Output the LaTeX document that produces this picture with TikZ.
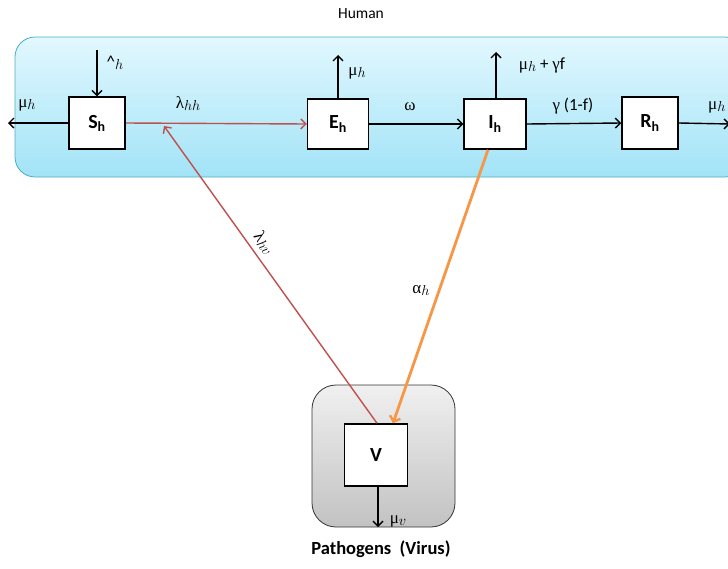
\documentclass[tikz,border=0pt]{standalone}
\usepackage{fontspec}
\setmainfont{Carlito}
\newfontfamily\gr{Liberation Serif}
\usetikzlibrary{arrows.meta}
\definecolor{redline}{HTML}{C0504D}
\definecolor{orangeline}{HTML}{F79646}
\definecolor{panelborder}{HTML}{4BACC6}
\definecolor{bluetop}{HTML}{E2F8FE}
\definecolor{bluebot}{HTML}{A2E3F7}
\definecolor{graytop}{HTML}{F0F0F0}
\definecolor{graybot}{HTML}{C2C2C2}
\newcommand\lsub[1]{\raisebox{-2pt}{\fontsize{15}{15}\selectfont$#1$}}
\tikzset{
  box/.style={draw=black, line width=1.5pt, fill=white, inner sep=0pt, font=\fontsize{20}{20}\selectfont\bfseries},
  flow/.style={draw=black, line width=1.4pt, -{Straight Barb[length=5pt,width=10pt,line width=1.4pt]}},
  redflow/.style={draw=redline, line width=1.4pt, -{Straight Barb[length=5pt,width=10pt,line width=1.4pt]}},
  orangeflow/.style={draw=orangeline, line width=2.8pt, -{Straight Barb[length=5pt,width=11pt,line width=2.4pt]}},
  lbl/.style={font=\fontsize{17}{17}\selectfont, inner sep=0pt}
}
\begin{document}
\begin{tikzpicture}[x=1pt,y=-1pt]
\useasboundingbox (0,0) rectangle (728,568);
% panels
\path[draw=panelborder, line width=0.8pt, rounded corners=20pt, top color=bluetop, bottom color=bluebot] (15,37) rectangle (745,177);
\path[draw=black!80, line width=0.8pt, rounded corners=24pt, top color=graytop, bottom color=graybot] (312,385) rectangle (455,527);
\node[lbl, font=\fontsize{15.5}{15.5}\selectfont] (human) at (361,14) {Human};
\node[lbl, font=\fontsize{18.5}{18.5}\selectfont\bfseries] (path) at (381,549) {Pathogens\ \ (Virus)};
% boxes
\node[box, minimum width=56pt, minimum height=52pt] (S) at (97,123) {S\textsubscript{h}};
\node[box, minimum width=61pt, minimum height=50pt] (E) at (338,124) {E\textsubscript{h}};
\node[box, minimum width=62pt, minimum height=50pt] (I) at (495,124) {I\textsubscript{h}};
\node[box, minimum width=56pt, minimum height=52pt] (R) at (650,123) {R\textsubscript{h}};
\node[box, minimum width=63pt, minimum height=62pt] (V) at (376,455) {V};
% free ends
\coordinate (Lin) at (97,50);
\coordinate (Sout) at (8,123);
\coordinate (Eout) at (338,55);
\coordinate (Iout) at (496,52);
\coordinate (Rout) at (730,124);
\coordinate (Vout) at (378,527);
\coordinate (hit) at (164,126);
% arrows
\draw[flow] (Lin) -- (S.north);
\draw[flow] (S.west) -- (Sout);
\draw[redflow] (S.east) -- (E.west);
\draw[flow] (E.north) -- (Eout);
\draw[flow] (E.east) -- (I.west);
\draw[flow] ([xshift=1pt]I.north) -- (Iout);
\draw[flow] (I.east) -- (R.west);
\draw[flow] (R.east) -- (Rout);
\draw[flow] ([xshift=2pt]V.south) -- (Vout);
\draw[redflow] ([xshift=1pt]V.north) -- (hit);
\draw[orangeflow] ([xshift=-7pt]I.south) -- ([xshift=17pt]V.north);
% labels
\node[lbl] (lLam) at (115,63) {\textasciicircum\lsub{h}};
\node[lbl] (lS) at (27,105) {{\gr μ}\lsub{h}};
\node[lbl] (lhh) at (188,104) {{\gr λ}\lsub{hh}};
\node[lbl] (lE) at (357,73) {{\gr μ}\lsub{h}};
\node[lbl] (lom) at (410,107) {{\gr ω}};
\node[lbl] (lI) at (542,65) {{\gr μ}\lsub{h} + {\gr γ}f};
\node[lbl] (lg) at (573,106) {{\gr γ} (1-f)};
\node[lbl, anchor=west] (lR) at (708,107) {{\gr μ}\lsub{h}};
\node[lbl, rotate=-54] (lhv) at (264,243) {{\gr λ}\lsub{hv}};
\node[lbl] (lal) at (421,290) {{\gr α}\lsub{h}};
\node[lbl] (lV) at (398,521) {{\gr μ}\lsub{v}};
\end{tikzpicture}
\end{document}
